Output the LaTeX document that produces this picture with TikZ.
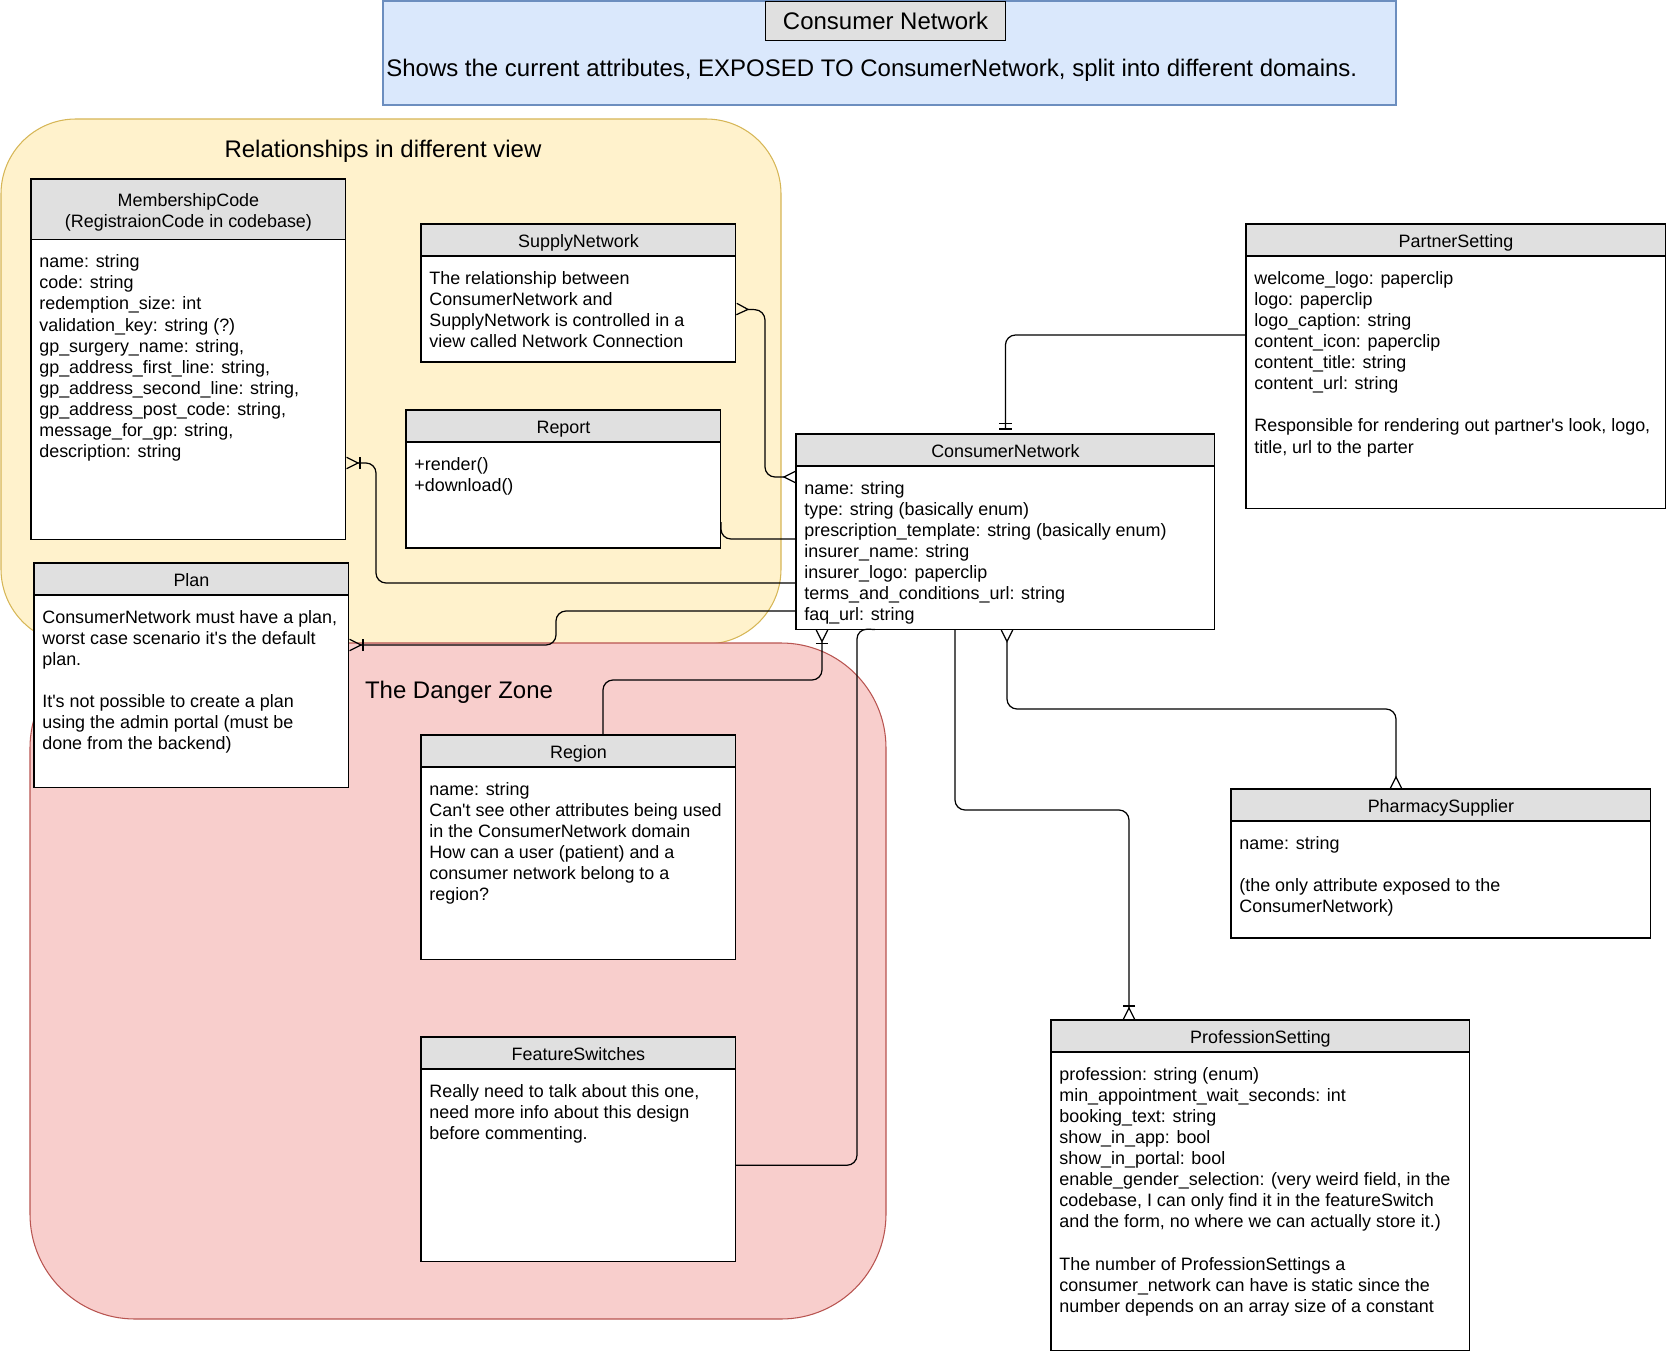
\documentclass[tikz,border=0pt]{standalone}
\usepackage{fontspec}
\setmainfont{Liberation Sans}
\usetikzlibrary{arrows.meta,positioning}
\definecolor{HeadGray}{RGB}{224,224,224}
\definecolor{ZoneYellow}{RGB}{255,242,204}
\definecolor{ZoneYellowLine}{RGB}{214,182,86}
\definecolor{ZoneRed}{RGB}{248,206,204}
\definecolor{ZoneRedLine}{RGB}{184,84,80}
\definecolor{NoteBlue}{RGB}{218,232,252}
\definecolor{NoteBlueLine}{RGB}{108,142,191}
\tikzset{
  erhead/.style={draw, fill=HeadGray, anchor=north west, align=center, minimum width=6.3cm, minimum height=0.64cm, inner sep=0pt, outer sep=0pt, line width=0.6pt, text height=9.2pt, text depth=0.5pt},
  erbody/.style={draw, fill=white, anchor=north west, minimum width=6.3cm, inner sep=0pt, outer sep=0pt, line width=0.6pt},
  ertext/.style={anchor=north west, align=left, inner sep=0pt},
  erline/.style={line width=0.7pt, rounded corners=0.2cm},
  zonetitle/.style={font=\fontsize{13.65}{16}\selectfont},
  oneormany/.style={-{Bar[width=7pt]Straight Barb[reversed,length=6.5pt,width=6.5pt]}},
  manymany/.style={{Straight Barb[reversed,length=6.5pt,width=6.5pt]}-{Straight Barb[reversed,length=6.5pt,width=6.5pt]}},
  onlyone/.style={-{Bar[width=7pt,sep=2.5pt]Bar[width=7pt,sep=2.5pt]}},
}

\begin{document}
\begin{tikzpicture}[x=0.02cm, y=-0.02cm, every node/.style={font=\fontsize{10.2}{12}\selectfont}]
  \useasboundingbox (0,0) rectangle (1667,1355);

  % note and zones
  \draw[NoteBlueLine, fill=NoteBlue, line width=0.6pt] (383,1) rectangle (1396,105);
  \node[draw, fill=HeadGray, minimum width=4.8cm, minimum height=0.78cm, inner sep=0pt, zonetitle] (title) at (885.6,20.7) {Consumer Network};
  \node[anchor=west, inner sep=0pt, zonetitle] (note) at (386,70) {Shows the current attributes, EXPOSED TO ConsumerNetwork, split into different domains.};
  \draw[ZoneYellowLine, fill=ZoneYellow, line width=0.6pt, rounded corners=1.5cm] (1,119) rectangle (781,644);
  \node[zonetitle] (viewtitle) at (383,151) {Relationships in different view};
  \draw[ZoneRedLine, fill=ZoneRed, line width=0.6pt, rounded corners=2.1cm] (30,643) rectangle (886,1319);
  \node[zonetitle] (dangertitle) at (459,692) {The Danger Zone};

  % entities
  \node[erhead, minimum height=1.21cm, text height=21.4pt] (ms) at (31,179) {MembershipCode\\(RegistraionCode in codebase)};
  \node[erbody, minimum height=6cm] (msb) at (ms.south west) {};
  \node[ertext] (mst) at ([shift={(8,15)}]msb.north west) {name: string\\code: string\\redemption\_size: int\\validation\_key: string (?)\\gp\_surgery\_name: string,\\gp\_address\_first\_line: string,\\gp\_address\_second\_line: string,\\gp\_address\_post\_code: string,\\message\_for\_gp: string,\\description: string};

  \node[erhead] (sn) at (421,224) {SupplyNetwork};
  \node[erbody, minimum height=2.12cm] (snb) at (sn.south west) {};
  \node[ertext] (snt) at ([shift={(8,15)}]snb.north west) {The relationship between\\ConsumerNetwork and\\SupplyNetwork is controlled in a\\view called Network Connection};

  \node[erhead] (rep) at (406,410) {Report};
  \node[erbody, minimum height=2.12cm] (repb) at (rep.south west) {};
  \node[ertext] (rept) at ([shift={(8,15)}]repb.north west) {+render()\\+download()};

  \node[erhead] (plan) at (34,563) {Plan};
  \node[erbody, minimum height=3.85cm] (planb) at (plan.south west) {};
  \node[ertext] (plant) at ([shift={(8,15)}]planb.north west) {ConsumerNetwork must have a plan,\\worst case scenario it\textquotesingle s the default\\plan.\\[12pt]It\textquotesingle s not possible to create a plan\\using the admin portal (must be\\done from the backend)};

  \node[erhead] (reg) at (421,735) {Region};
  \node[erbody, minimum height=3.85cm] (regb) at (reg.south west) {};
  \node[ertext] (regt) at ([shift={(8,15)}]regb.north west) {name: string\\Can\textquotesingle t see other attributes being used\\in the ConsumerNetwork domain\\How can a user (patient) and a\\consumer network belong to a\\region?};

  \node[erhead] (fs) at (421,1037) {FeatureSwitches};
  \node[erbody, minimum height=3.85cm] (fsb) at (fs.south west) {};
  \node[ertext] (fst) at ([shift={(8,15)}]fsb.north west) {Really need to talk about this one,\\need more info about this design\\before commenting.};

  \node[erhead, minimum width=8.38cm] (cn) at (796,434) {ConsumerNetwork};
  \node[erbody, minimum width=8.38cm, minimum height=3.27cm] (cnb) at (cn.south west) {};
  \node[ertext] (cnt) at ([shift={(8,15)}]cnb.north west) {name: string\\type: string (basically enum)\\prescription\_template: string (basically enum)\\insurer\_name: string\\insurer\_logo: paperclip\\terms\_and\_conditions\_url: string\\faq\_url: string};

  \node[erhead, minimum width=8.4cm] (ps) at (1246,224) {PartnerSetting};
  \node[erbody, minimum width=8.4cm, minimum height=5.06cm] (psb) at (ps.south west) {};
  \node[ertext] (pst) at ([shift={(8,15)}]psb.north west) {welcome\_logo: paperclip\\logo: paperclip\\logo\_caption: string\\content\_icon: paperclip\\content\_title: string\\content\_url: string\\[12pt]Responsible for rendering out partner\textquotesingle s look, logo,\\title, url to the parter};

  \node[erhead, minimum width=8.4cm] (ph) at (1231,789) {PharmacySupplier};
  \node[erbody, minimum width=8.4cm, minimum height=2.34cm] (phb) at (ph.south west) {};
  \node[ertext] (pht) at ([shift={(8,15)}]phb.north west) {name: string\\[12pt](the only attribute exposed to the\\ConsumerNetwork)};

  \node[erhead, minimum width=8.38cm] (prof) at (1051,1020) {ProfessionSetting};
  \node[erbody, minimum width=8.38cm, minimum height=5.97cm] (profb) at (prof.south west) {};
  \node[ertext] (proft) at ([shift={(8,15)}]profb.north west) {profession: string (enum)\\min\_appointment\_wait\_seconds: int\\booking\_text: string\\show\_in\_app: bool\\show\_in\_portal: bool\\enable\_gender\_selection: (very weird field, in the\\codebase, I can only find it in the featureSwitch\\and the form, no where we can actually store it.)\\[12pt]The number of ProfessionSettings a\\consumer\_network can have is static since the\\number depends on an array size of a constant};

  % relations
  \draw[erline, manymany] (snb.east) -- (765,310) -- (765,477) -- (cnb.west |- 0,477);
  \draw[erline] (repb.east |- 0,522) |- (cnb.west |- 0,539);
  \draw[erline, oneormany] (cnb.west |- 0,583) -| (376,463) -- (msb.east |- 0,463);
  \draw[erline, oneormany] (cnb.west |- 0,611) -| (556,645) -- (planb.east |- 0,645);
  \draw[erline, oneormany] (reg.north -| 603,0) -- (603,680) -| (cnb.south -| 822,0);
  \draw[erline] (fsb.east) -| (857,629) -- (cnb.south -| 875,0);
  \draw[erline, oneormany] (cnb.south -| 955,0) |- (1129,810) -- (prof.north -| 1129,0);
  \draw[erline, manymany] (cnb.south -| 1007,0) |- (1396,709) -- (ph.north -| 1396,0);
  \draw[erline, onlyone] (psb.west |- 0,335) -| (cn.north);
\end{tikzpicture}
\end{document}
